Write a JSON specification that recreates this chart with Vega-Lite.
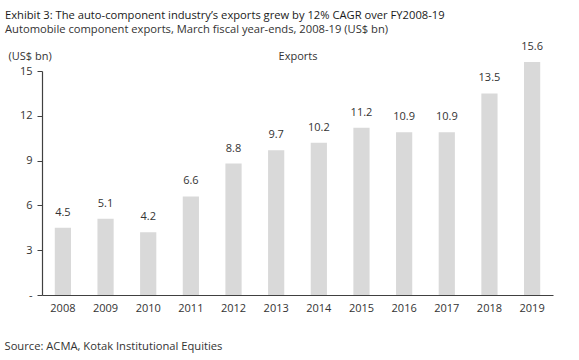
{
  "$schema": "https://vega.github.io/schema/vega-lite/v6.json",
  "width": 511,
  "height": 224,
  "autosize": {"type": "none"},
  "padding": {"left": 42, "top": 71, "right": 26, "bottom": 65},
  "background": "white",
  "config": {
    "view": {"stroke": null},
    "font": "Open Sans"
  },
  "title": {
    "text": "Exhibit 3: The auto-component industry’s exports grew by 12% CAGR over FY2008-19",
    "subtitle": "Automobile component exports, March fiscal year-ends, 2008-19 (US$ bn)",
    "anchor": "start",
    "frame": "group",
    "dx": -37,
    "fontSize": 11.2,
    "fontWeight": "normal",
    "color": "#1a1a1a",
    "subtitleFontSize": 11.2,
    "subtitleColor": "#333333",
    "subtitlePadding": 3,
    "offset": 6
  },
  "data": {
    "values": [
      {"year": "2008", "exports": 4.5},
      {"year": "2009", "exports": 5.1},
      {"year": "2010", "exports": 4.2},
      {"year": "2011", "exports": 6.6},
      {"year": "2012", "exports": 8.8},
      {"year": "2013", "exports": 9.7},
      {"year": "2014", "exports": 10.2},
      {"year": "2015", "exports": 11.2},
      {"year": "2016", "exports": 10.9},
      {"year": "2017", "exports": 10.9},
      {"year": "2018", "exports": 13.5},
      {"year": "2019", "exports": 15.6}
    ]
  },
  "encoding": {
    "x": {
      "field": "year",
      "type": "ordinal",
      "scale": {"paddingInner": 0.62, "paddingOuter": 0.3}
    },
    "y": {
      "field": "exports",
      "type": "quantitative",
      "scale": {"domain": [0, 15], "nice": false}
    }
  },
  "resolve": {"axis": {"x": "independent"}},
  "layer": [
    {
      "mark": {"type": "bar", "color": "#d9d9d9", "clip": false},
      "encoding": {
        "x": {
          "field": "year",
          "type": "ordinal",
          "axis": {
            "title": "Exports",
            "titleFontSize": 11,
            "titleFontWeight": "normal",
            "titleColor": "#333333",
            "titleY": -236,
            "titleBaseline": "alphabetic",
            "labelAngle": 0,
            "labelFontSize": 11,
            "labelColor": "#333333",
            "labelPadding": 7,
            "ticks": false,
            "domainColor": "#404040",
            "domainWidth": 1.2
          }
        },
        "y": {
          "field": "exports",
          "type": "quantitative",
          "axis": {
            "title": "(US$ bn)",
            "titleAngle": 0,
            "titleAlign": "left",
            "titleBaseline": "alphabetic",
            "titleX": -34,
            "titleY": -12,
            "titleFontSize": 11,
            "titleFontWeight": "normal",
            "titleColor": "#333333",
            "values": [0, 3, 6, 9, 12, 15],
            "labelExpr": "datum.value == 0 ? '-' : datum.label",
            "labelFontSize": 11,
            "labelColor": "#333333",
            "labelPadding": 5,
            "tickSize": 5,
            "tickColor": "#404040",
            "domainColor": "#404040",
            "domainWidth": 1.2,
            "grid": false
          }
        }
      }
    },
    {
      "mark": {"type": "text", "dy": -10, "fontSize": 11, "color": "#333333", "baseline": "bottom"},
      "encoding": {
        "x": {
          "field": "year",
          "type": "ordinal",
          "axis": {
            "orient": "bottom",
            "labels": false,
            "ticks": false,
            "domain": false,
            "title": "Source: ACMA, Kotak Institutional Equities",
            "titleAlign": "left",
            "titleAnchor": "start",
            "titleBaseline": "alphabetic",
            "titleX": -38,
            "titleY": 54,
            "titleFontSize": 11.2,
            "titleFontWeight": "normal",
            "titleColor": "#333333"
          }
        },
        "text": {"field": "exports", "type": "quantitative", "format": ".1f"}
      }
    }
  ]
}
